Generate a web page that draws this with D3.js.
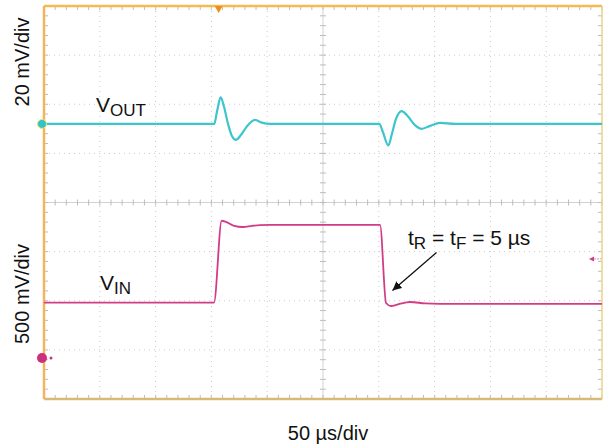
<!DOCTYPE html>
<html><head><meta charset="utf-8">
<script src="https://cdn.jsdelivr.net/npm/d3@7/dist/d3.min.js"></script>
<style>
html,body{margin:0;padding:0;background:#fff;}
svg{display:block;font-family:"Liberation Sans",Arial,Helvetica,sans-serif;}
</style></head>
<body>
<svg id="c" width="605" height="448"></svg>
<script>
// ---- data ----
// time in µs (50 µs/div, 10 divisions)
const voutTime = [0,151.4,152.6,155.0,158.3,161.3,164.9,168.5,172.0,176.5,181.9,189.1,195.3,202.5,300.4,303.8,308.5,311.8,315.4,320.5,326.2,332.4,338.4,345.9,354.8,368.3,500];
// VOUT in mV (AC, relative to channel offset), 20 mV/div
const voutMv   = [0,0,0,5,10.8,7,0,-5,-6.5,-4.5,-1,1.6,0.5,0,0,-3.5,-8.8,-4,2,5.2,3,-0.5,-2.0,-0.8,0.4,0,0];
const vinTime  = [0,152.3,159.2,163.1,170.3,178.3,186.4,193.5,202.5,301.1,306.5,310.9,317.2,328,341.4,354.8,500];
// VIN in mV, 500 mV/div
const vinMv    = [563,563,1397,1385,1345,1333,1345,1352,1354,1354,560,529,545,570,555,550,550];
const timePerDiv = 50, ch1PerDiv = 20, ch2PerDiv = 500;
const ch1OffsetDiv = 1.6, ch2OffsetDiv = -3.165;
const triggerTime = 156.5, triggerLevelMv = 1008;
const labels = {xUnit:"50 µs/div", ch1Unit:"20 mV/div", ch2Unit:"500 mV/div"};

// ---- layout ----
const L=44,R=602,T=6,B=399;
const svg=d3.select("#c");
const x=d3.scaleLinear().domain([0,10*timePerDiv]).range([L,R]);
const yDiv=d3.scaleLinear().domain([-4,4]).range([B,T]);
const y1=d3.scaleLinear().domain([(-4-ch1OffsetDiv)*ch1PerDiv,(4-ch1OffsetDiv)*ch1PerDiv]).range([B,T]);
const y2=d3.scaleLinear().domain([(-4-ch2OffsetDiv)*ch2PerDiv,(4-ch2OffsetDiv)*ch2PerDiv]).range([B,T]);
const xDivs=d3.range(0,11).map(i=>i*timePerDiv);
const yDivs=d3.range(-4,5);

// grid (dotted)
const g=svg.append("g");
g.selectAll(".gv").data(xDivs.slice(1,-1).filter(d=>d!==250)).join("line")
 .attr("x1",d=>x(d)).attr("x2",d=>x(d)).attr("y1",T).attr("y2",B)
 .attr("stroke","#cccccc").attr("stroke-width",1).attr("stroke-dasharray","1,4");
g.selectAll(".gh").data(yDivs.slice(1,-1).filter(d=>d!==0)).join("line")
 .attr("x1",L).attr("x2",R).attr("y1",d=>yDiv(d)).attr("y2",d=>yDiv(d))
 .attr("stroke","#cccccc").attr("stroke-width",1).attr("stroke-dasharray","1,4");
// center lines
g.append("line").attr("x1",x(250)).attr("x2",x(250)).attr("y1",T).attr("y2",B).attr("stroke","#d2d2d2").attr("stroke-width",1);
g.append("line").attr("x1",L).attr("x2",R).attr("y1",yDiv(0)).attr("y2",yDiv(0)).attr("stroke","#d2d2d2").attr("stroke-width",1);
// minor ticks
const xMinor=d3.range(0,51).map(i=>i*timePerDiv/5);
const yMinor=d3.range(0,41).map(i=>-4+i*0.2);
const tk=svg.append("g").attr("stroke","#bdbdbd").attr("stroke-width",1);
tk.selectAll(".a").data(xMinor).join("line").attr("x1",d=>x(d)).attr("x2",d=>x(d)).attr("y1",yDiv(0)-3).attr("y2",yDiv(0)+3);
tk.selectAll(".b").data(yMinor).join("line").attr("y1",d=>yDiv(d)).attr("y2",d=>yDiv(d)).attr("x1",x(250)-3).attr("x2",x(250)+3);
tk.selectAll(".c").data(xMinor).join("line").attr("x1",d=>x(d)).attr("x2",d=>x(d)).attr("y1",T).attr("y2",T+4);
tk.selectAll(".d").data(xMinor).join("line").attr("x1",d=>x(d)).attr("x2",d=>x(d)).attr("y1",B-4).attr("y2",B);
tk.selectAll(".e").data(yMinor).join("line").attr("y1",d=>yDiv(d)).attr("y2",d=>yDiv(d)).attr("x1",L).attr("x2",L+4);
tk.selectAll(".f").data(yMinor).join("line").attr("y1",d=>yDiv(d)).attr("y2",d=>yDiv(d)).attr("x1",R-4).attr("x2",R);

// borders
svg.append("line").attr("x1",L).attr("x2",R).attr("y1",T).attr("y2",T).attr("stroke","#f2bd4e").attr("stroke-width",2.5);
svg.append("line").attr("x1",L).attr("x2",R).attr("y1",B).attr("y2",B).attr("stroke","#d9b978").attr("stroke-width",2.5);
svg.append("line").attr("x1",R).attr("x2",R).attr("y1",T).attr("y2",B).attr("stroke","#ead58a").attr("stroke-width",1.5);
svg.append("line").attr("x1",L).attr("x2",L).attr("y1",T).attr("y2",B).attr("stroke","#f5b35c").attr("stroke-width",2.5);

// traces
const line1=d3.line().x((d,i)=>x(voutTime[i])).y(d=>y1(d)).curve(d3.curveMonotoneX);
const line2=d3.line().x((d,i)=>x(vinTime[i])).y(d=>y2(d)).curve(d3.curveMonotoneX);
svg.append("path").attr("d",line1(voutMv)).attr("fill","none").attr("stroke","#3cc6cc").attr("stroke-width",2.2);
svg.append("path").attr("d",line2(vinMv)).attr("fill","none").attr("stroke","#d23c86").attr("stroke-width",1.8);

// trigger marker (top)
const tx=x(triggerTime);
svg.append("path").attr("d",`M${tx-4},${T}L${tx+4},${T}L${tx},${T+7}Z`).attr("fill","#f08c1e");
// trigger level marker (right)
const ty=y2(triggerLevelMv);
svg.append("path").attr("d",`M${R-13},${ty}L${R-8},${ty-2.5}L${R-8},${ty+2.5}Z`).attr("fill","#d23c86");
svg.append("line").attr("x1",R-8).attr("x2",R-1).attr("y1",ty).attr("y2",ty).attr("stroke","#e58ab5").attr("stroke-width",1).attr("stroke-dasharray","2,1");
// channel ground markers
svg.append("circle").attr("cx",L-2).attr("cy",y1(0)).attr("r",4.5).attr("fill","#33c3c6").attr("stroke","#f3e06a").attr("stroke-width",1);
svg.append("circle").attr("cx",L-2).attr("cy",y2(0)).attr("r",5).attr("fill","#cc2f7c");
svg.append("circle").attr("cx",L+7).attr("cy",y2(0)).attr("r",1.5).attr("fill","#cc2f7c");

// axis unit labels
svg.append("text").attr("transform",`translate(29,62) rotate(-90)`).attr("text-anchor","middle").attr("font-size",20).attr("fill","#111").text(labels.ch1Unit);
svg.append("text").attr("transform",`translate(29,294) rotate(-90)`).attr("text-anchor","middle").attr("font-size",20).attr("fill","#111").text(labels.ch2Unit);
svg.append("text").attr("x",328).attr("y",440).attr("text-anchor","middle").attr("font-size",20).attr("fill","#111").text(labels.xUnit);

// trace labels
function subLabel(xp,yp,main,sub){
  const t=svg.append("text").attr("x",xp).attr("y",yp).attr("font-size",21).attr("fill","#111");
  t.append("tspan").text(main);
  t.append("tspan").attr("font-size",17).attr("dy",4).text(sub);
  return t;
}
subLabel(96,112,"V","OUT");
subLabel(100,290,"V","IN");
const ann=svg.append("text").attr("x",408).attr("y",245).attr("font-size",21).attr("fill","#111");
ann.append("tspan").text("t");
ann.append("tspan").attr("font-size",17).attr("dy",4).text("R");
ann.append("tspan").attr("dy",-4).text(" = t");
ann.append("tspan").attr("font-size",17).attr("dy",4).text("F");
ann.append("tspan").attr("dy",-4).text(" = 5 µs");

// annotation arrow
svg.append("defs").append("marker").attr("id","ah").attr("viewBox","0 0 10 10").attr("refX",10).attr("refY",5)
 .attr("markerWidth",9).attr("markerHeight",9).attr("markerUnits","userSpaceOnUse").attr("orient","auto")
 .append("path").attr("d","M0,0L10,5L0,10Z").attr("fill","#111");
svg.append("line").attr("x1",436.5).attr("y1",252.5).attr("x2",392.5).attr("y2",290.5).attr("stroke","#111").attr("stroke-width",1.3).attr("marker-end","url(#ah)");
</script>
</body></html>
